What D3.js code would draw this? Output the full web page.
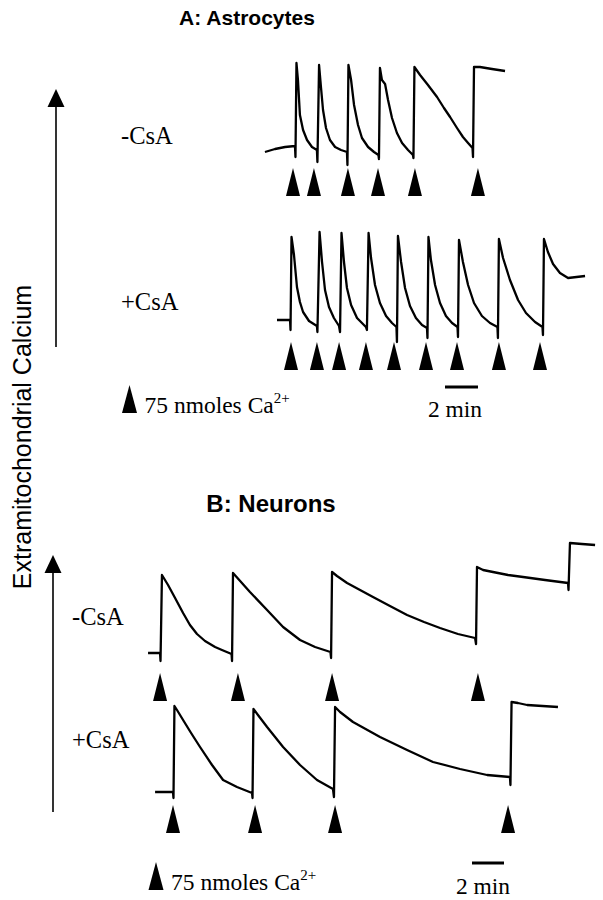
<!DOCTYPE html>
<html><head><meta charset="utf-8">
<script src="https://cdn.jsdelivr.net/npm/d3@7"></script>
<style>body{margin:0;background:#fff}svg{display:block}</style>
</head><body><svg id="c" width="603" height="900"></svg>
<script>
// ---------------- DATA ----------------
const panelTitles = ["A: Astrocytes", "B: Neurons"];
const conditionLabels = ["-CsA", "+CsA"];
const yAxisLabel = "Extramitochondrial Calcium";
const legendText = "75 nmoles Ca";
const legendSup = "2+";
const scaleBarMinutes = 2;
const scaleBarLabel = "2 min";

// traces: [time (min), signal (arb. units)]
const astroNoCsA = [[0.30,13],[0.91,16],[1.52,18],[2.12,19],[2.15,8],[2.21,102],[2.30,85],[2.42,50],[2.61,35],[2.85,25],[3.15,18],[3.45,15],
 [3.48,3],[3.58,100],[3.70,77],[3.82,55],[4.00,37],[4.24,25],[4.55,18],[4.91,15],[5.27,13],
 [5.30,0],[5.36,100],[5.52,85],[5.70,60],[5.94,40],[6.18,27],[6.55,18],[6.91,13],[7.18,10],
 [7.21,6],[7.27,97],[7.39,85],[7.58,81],[7.76,65],[8.00,47],[8.30,32],[8.61,22],[8.97,15],[9.27,10],
 [9.30,7],[9.36,98],[9.70,90],[10.18,80],[10.73,68],[11.15,57],[11.52,48],[11.94,37],[12.30,28],[12.61,22],[12.88,17],
 [12.91,8],[12.97,98],[13.33,98],[14.06,96],[14.85,94]];
const astroCsA = [[1.03,15],[1.82,15],[1.85,5],[1.91,98],[2.06,80],[2.24,48],[2.42,33],[2.61,23],[2.97,14],[3.45,9],
 [3.48,3],[3.61,103],[3.76,73],[3.94,45],[4.18,28],[4.48,17],[4.79,9],
 [4.85,3],[4.94,102],[5.09,73],[5.27,47],[5.52,30],[5.88,17],[6.42,8],
 [6.48,5],[6.58,102],[6.73,77],[6.97,50],[7.27,32],[7.64,19],[8.00,12],[8.27,8],
 [8.30,-7],[8.36,99],[8.55,73],[8.79,47],[9.09,29],[9.45,17],[9.82,10],[10.12,7],
 [10.15,-3],[10.21,98],[10.36,75],[10.61,50],[10.91,32],[11.27,19],[11.64,12],[11.97,8],
 [12.00,-2],[12.06,95],[12.30,73],[12.61,50],[12.97,32],[13.45,19],[13.94,12],[14.39,8],
 [14.42,-3],[14.48,96],[14.73,77],[15.15,55],[15.64,35],[16.12,22],[16.67,13],[17.12,8],
 [17.15,0],[17.21,96],[17.45,83],[17.76,71],[18.18,62],[18.67,57],[19.70,59]];
const neuronNoCsA = [[0.19,7],[0.94,7],[0.97,-1],[1.06,85],[1.44,75],[1.88,62],[2.38,47],[2.81,35],[3.25,26],[3.75,19],[4.38,13],[4.81,10],[5.41,6],
 [5.44,-1],[5.50,87],[6.56,68],[7.63,50],[8.63,33],[9.69,20],[10.63,13],[11.59,8],
 [11.63,2],[11.69,88],[12.00,84],[12.63,77],[13.44,70],[14.25,63],[15.31,54],[16.38,45],[17.44,38],[18.44,32],[19.56,26],[20.63,22],
 [20.69,16],[20.75,93],[21.13,90],[21.75,88],[22.69,85],[23.63,83],[25.00,80],[26.44,77],
 [26.47,70],[26.56,117],[27.31,116],[28.13,115]];
const neuronCsA = [[0.63,8],[1.75,8],[1.78,2],[1.84,94],[2.00,90],[2.38,80],[2.88,67],[3.44,53],[4.19,35],[4.88,20],[5.75,13],[6.69,7],
 [6.72,2],[6.78,91],[7.06,85],[7.63,73],[8.63,53],[9.69,35],[10.75,20],[11.75,11],
 [11.81,3],[11.88,93],[12.19,88],[13.00,78],[14.69,63],[16.38,50],[18.00,38],[19.69,31],[21.38,25],[22.81,23],
 [22.84,15],[22.91,98],[23.31,97],[23.88,95],[25.81,93]];

// Ca2+ addition times (min)
const astroNoCsAAdds = [2.00,3.27,5.33,7.15,9.39,13.21];
const astroCsAAdds = [1.88,3.45,4.79,6.42,8.12,10.06,11.94,14.48,16.97];
const neuronNoCsAAdds = [0.94,5.81,11.69,20.81];
const neuronCsAAdds = [1.75,6.88,11.88,22.69];

// ---------------- DRAW ----------------
const svg = d3.select("#c");
const serif = "'Liberation Serif','Times New Roman',serif";
const sans = "'Liberation Sans',Arial,Helvetica,sans-serif";

const xA = d3.scaleLinear().domain([0,20]).range([260,590]);
const xB = d3.scaleLinear().domain([0,28]).range([145,593]);
const yA1 = d3.scaleLinear().domain([0,100]).range([165,65]);
const yA2 = d3.scaleLinear().domain([0,100]).range([335,235]);
const yB1 = d3.scaleLinear().domain([0,100]).range([660,560]);
const yB2 = d3.scaleLinear().domain([0,100]).range([800,700]);

function trace(data, x, y){
  svg.append("path").datum(data)
    .attr("d", d3.line().x(d=>x(d[0])).y(d=>y(d[1])))
    .attr("fill","none").attr("stroke","#000").attr("stroke-width",2.3)
    .attr("stroke-linejoin","round");
}
function tri(cx, top, w, h){
  return `M${cx},${top}L${cx+w/2},${top+h}L${cx-w/2},${top+h}Z`;
}
function adds(times, x, top){
  svg.selectAll(null).data(times).enter().append("path")
    .attr("d", d=>tri(x(d), top, 14, 28)).attr("fill","#000");
}
function upArrow(x, top, bottom){
  svg.append("line").attr("x1",x).attr("x2",x).attr("y1",top+15).attr("y2",bottom)
    .attr("stroke","#000").attr("stroke-width",1.6);
  svg.append("path").attr("d", tri(x, top, 17, 18)).attr("fill","#000");
}
function label(txt, x, y, size, fam, weight, anchor){
  return svg.append("text").attr("x",x).attr("y",y).attr("font-size",size)
    .attr("font-family",fam).attr("font-weight",weight||"normal")
    .attr("text-anchor",anchor||"start").attr("fill","#000").text(txt);
}
function legend(ax, ay, scaleX, barX, barY, minX, minY){
  svg.append("path").attr("d", tri(ax, ay, 15, 28)).attr("fill","#000");
  const t = label(legendText, ax+15, ay+28, 23.5, serif);
  t.append("tspan").attr("font-size",15).attr("dy",-10).text(legendSup);
  const w = scaleX(scaleBarMinutes) - scaleX(0);
  svg.append("line").attr("x1",barX).attr("x2",barX+w).attr("y1",barY).attr("y2",barY)
    .attr("stroke","#000").attr("stroke-width",3);
  label(scaleBarLabel, minX, minY, 23.5, serif, "normal", "middle");
}

// Panel A
label(panelTitles[0], 247, 25, 21, sans, "bold", "middle");
upArrow(56, 89, 347);
label(conditionLabels[0], 121, 144, 24.5, serif);
label(conditionLabels[1], 121, 310, 24.5, serif);
trace(astroNoCsA, xA, yA1);
trace(astroCsA, xA, yA2);
adds(astroNoCsAAdds, xA, 168);
adds(astroCsAAdds, xA, 342);
legend(129.5, 385, xA, 445, 387, 455, 417);

// y label
svg.append("text").attr("transform","translate(31,437) rotate(-90)")
  .attr("text-anchor","middle").attr("font-family",sans).attr("font-size",25)
  .text(yAxisLabel);

// Panel B
label(panelTitles[1], 271, 512, 24, sans, "bold", "middle");
upArrow(53, 555, 812);
label(conditionLabels[0], 72, 625, 24.5, serif);
label(conditionLabels[1], 72, 748, 24.5, serif);
trace(neuronNoCsA, xB, yB1);
trace(neuronCsA, xB, yB2);
adds(neuronNoCsAAdds, xB, 673);
adds(neuronCsAAdds, xB, 805);
legend(156, 862, xB, 472, 863, 483, 894);
</script></body></html>
